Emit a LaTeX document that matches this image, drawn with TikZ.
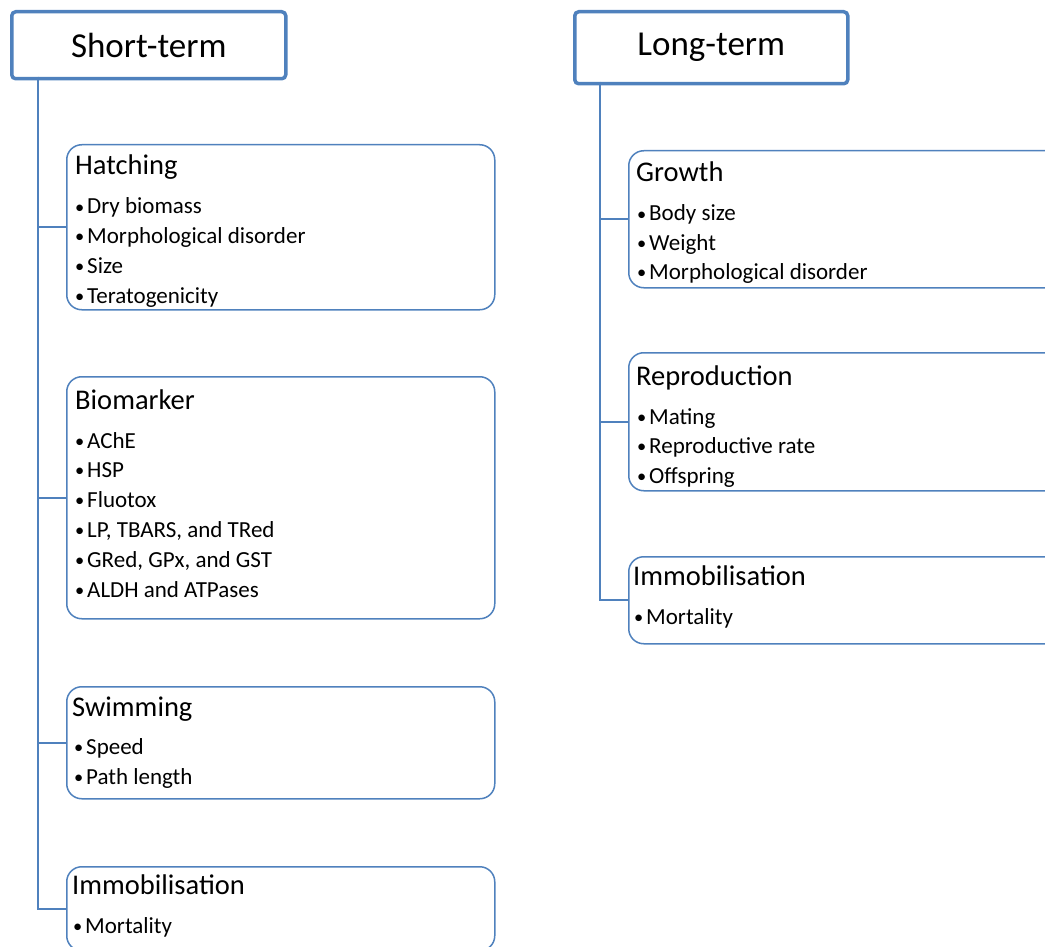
\documentclass[tikz,border=0pt]{standalone}
\usepackage{fontspec}
\setmainfont{Carlito}
\definecolor{frameblue}{RGB}{79,129,189}
\tikzset{
  head/.style={draw=frameblue, line width=3.5pt, rounded corners=4pt, fill=white,
    anchor=north west, inner sep=0pt, font=\fontsize{35}{40}\selectfont},
  card/.style={draw=frameblue, line width=1.5pt, rounded corners=15pt, fill=white,
    anchor=north west, inner sep=0pt},
  cardtitle/.style={anchor=base west, inner sep=0pt, font=\fontsize{28.5}{32}\selectfont},
  entry/.style={anchor=base west, inner sep=0pt, font=\fontsize{23}{30}\selectfont},
  link/.style={draw=frameblue, line width=2.2pt},
}
\newcommand{\itembul}{\makebox[12pt][l]{\raisebox{1pt}{\scalebox{0.8}{\textbullet}}}}
\begin{document}
\begin{tikzpicture}[x=1pt,y=-1pt]
  \useasboundingbox (0,0) rectangle (1045,947);
  % headers
  \node[head, minimum width=274pt, minimum height=67pt] (short) at (10,10) {Short-term};
  \node[head, minimum width=273pt, minimum height=72pt] (long) at (573,10) {Long-term};
  % short-term cards
  \node[card, minimum width=428pt, minimum height=165pt] (hatch) at (66,144) {};
  \node[card, minimum width=428pt, minimum height=242pt] (biom) at (66,376) {};
  \node[card, minimum width=428pt, minimum height=112pt] (swim) at (66,686) {};
  \node[card, minimum width=428pt, minimum height=84pt] (immS) at (66,866) {};
  % long-term cards
  \node[card, minimum width=440pt, minimum height=137pt] (grow) at (628,150) {};
  \node[card, minimum width=440pt, minimum height=138pt] (repr) at (628,352) {};
  \node[card, minimum width=440pt, minimum height=87pt] (immL) at (628,556) {};
  % titles
  \node[cardtitle] (hatch-t) at ([shift={(9,31)}]hatch.north west) {Hatching};
  \node[cardtitle] (biom-t) at ([shift={(9,33)}]biom.north west) {Biomarker};
  \node[cardtitle] (swim-t) at ([shift={(6,30)}]swim.north west) {Swimming};
  \node[cardtitle] (immS-t) at ([shift={(6,28)}]immS.north west) {Immobilisation};
  \node[cardtitle] (grow-t) at ([shift={(8,32)}]grow.north west) {Growth};
  \node[cardtitle] (repr-t) at ([shift={(8,33)}]repr.north west) {Reproduction};
  \node[cardtitle] (immL-t) at ([shift={(5,29)}]immL.north west) {Immobilisation};
  % items
  \foreach \t [count=\i] in {Dry biomass, Morphological disorder, Size, Teratogenicity}
    \node[entry] (hatch-\i) at ([shift={(9,{70+29.7*(\i-1)})}]hatch.north west) {\itembul\t};
  \foreach \t [count=\i] in {AChE, HSP, Fluotox, {LP, TBARS, and TRed}, {GRed, GPx, and GST}, ALDH and ATPases}
    \node[entry] (biom-\i) at ([shift={(9,{72+29.8*(\i-1)})}]biom.north west) {\itembul\t};
  \foreach \t [count=\i] in {Speed, Path length}
    \node[entry] (swim-\i) at ([shift={(8,{68+30*(\i-1)})}]swim.north west) {\itembul\t};
  \node[entry] (immS-1) at ([shift={(7,67)}]immS.north west) {\itembul Mortality};
  \foreach \t [count=\i] in {Body size, Weight, Morphological disorder}
    \node[entry] (grow-\i) at ([shift={(9,{71+29*(\i-1)})}]grow.north west) {\itembul\t};
  \foreach \t [count=\i] in {Mating, Reproductive rate, Offspring}
    \node[entry] (repr-\i) at ([shift={(9,{72+29.5*(\i-1)})}]repr.north west) {\itembul\t};
  \node[entry] (immL-1) at ([shift={(6,68)}]immL.north west) {\itembul Mortality};
  % connectors
  \coordinate (sroot) at (38,77);
  \coordinate (lroot) at (600,82);
  \foreach \b in {hatch, biom, swim, immS}
    \draw[link] (sroot) |- (\b.west);
  \foreach \b in {grow, repr, immL}
    \draw[link] (lroot) |- (\b.west);
\end{tikzpicture}
\end{document}
